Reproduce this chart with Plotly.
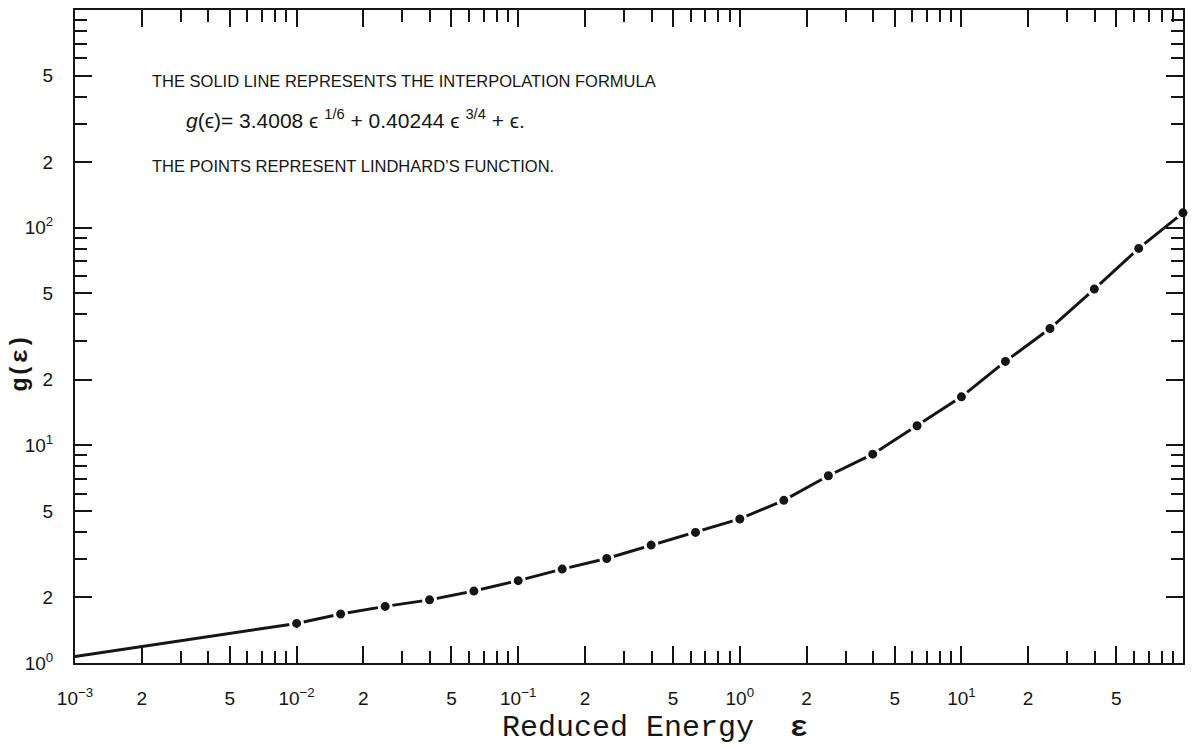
import plotly.graph_objects as go

# Lindhard's function, tabulated at reduced energies (5 points per decade)
eps_points = [0.01, 0.0158, 0.0251, 0.0398, 0.0631, 0.1, 0.158, 0.251, 0.398, 0.631,
              1.0, 1.58, 2.51, 3.98, 6.31, 10.0, 15.8, 25.1, 39.8, 63.1, 100.0]
g_points = [1.52, 1.68, 1.82, 1.95, 2.14, 2.39, 2.70, 3.02, 3.48, 3.98,
            4.59, 5.59, 7.25, 9.11, 12.3, 16.7, 24.3, 34.4, 52.2, 80.3, 117.0]

# interpolation curve: starts at the left edge of the frame and follows the points
eps_curve = [0.001] + eps_points
g_curve = [1.07] + g_points

# labelled ticks
x_tick_vals = [0.001, 0.002, 0.005, 0.01, 0.02, 0.05, 0.1, 0.2, 0.5, 1, 2, 5, 10, 20, 50]
x_tick_text = ["10<sup>−3</sup>", "2", "5", "10<sup>−2</sup>", "2", "5",
               "10<sup>−1</sup>", "2", "5", "10<sup>0</sup>", "2", "5",
               "10<sup>1</sup>", "2", "5"]
y_tick_vals = [1, 2, 5, 10, 20, 50, 100, 200, 500]
y_tick_text = ["10<sup>0</sup>", "2", "5", "10<sup>1</sup>", "2", "5",
               "10<sup>2</sup>", "2", "5"]

# unlabelled minor ticks
x_minor_vals = [m * 10.0 ** d for d in range(-3, 2) for m in (3, 4, 6, 7, 8, 9)]
y_minor_vals = [m * 10.0 ** d for d in range(0, 3) for m in (3, 4, 6, 7, 8, 9)]

INK = "#151515"

fig = go.Figure()
fig.add_trace(go.Scatter(
    x=eps_curve, y=g_curve, mode="lines",
    line=dict(color=INK, width=3), showlegend=False, hoverinfo="skip",
))
fig.add_trace(go.Scatter(
    x=eps_points, y=g_points, mode="markers",
    marker=dict(symbol="circle", size=12, color=INK,
                line=dict(color="white", width=3)),
    cliponaxis=False, showlegend=False,
))

# plot frame in pixels
L, R, T, B = 75, 1184, 8, 663
W, H = R - L, B - T


def px(x):
    return (x - L) / W


def py(y):
    return (B - y) / H


axis_common = dict(
    type="log", showline=True, linewidth=2, linecolor=INK, mirror="allticks",
    ticks="inside", ticklen=17, tickwidth=2, tickcolor=INK,
    showgrid=False, zeroline=False, tickmode="array",
    tickfont=dict(family="Liberation Sans, Arial, sans-serif", size=19, color=INK),
)

fig.update_xaxes(
    **axis_common, range=[-3, 2],
    tickvals=x_tick_vals, ticktext=x_tick_text, ticklabelstandoff=17,
    minor=dict(tickmode="array", tickvals=x_minor_vals, ticks="inside",
               ticklen=12, tickwidth=2, tickcolor=INK, showgrid=False),
)
fig.update_yaxes(
    **axis_common, range=[0, 3],
    tickvals=y_tick_vals, ticktext=y_tick_text, ticklabelstandoff=16,
    minor=dict(tickmode="array", tickvals=y_minor_vals, ticks="inside",
               ticklen=12, tickwidth=2, tickcolor=INK, showgrid=False),
)

note_font = dict(family="Liberation Sans, Arial, sans-serif", size=16.5, color=INK)
formula_font = dict(family="Liberation Sans, Arial, sans-serif", size=21, color=INK)
annotations = [
    dict(x=px(150), y=py(79), text="THE SOLID LINE REPRESENTS THE INTERPOLATION FORMULA",
         xanchor="left", yanchor="middle", font=note_font),
    dict(x=px(184), y=py(117),
         text="<i>g</i>(ϵ)= 3.4008 ϵ <sup>1/6</sup> + 0.40244 ϵ <sup>3/4</sup> + ϵ.",
         xanchor="left", yanchor="middle", font=formula_font),
    dict(x=px(150), y=py(164), text="THE POINTS REPRESENT LINDHARD’S FUNCTION.",
         xanchor="left", yanchor="middle", font=note_font),
    dict(x=px(500), y=py(728), text="Reduced Energy  <b>ε</b>",
         xanchor="left", yanchor="middle",
         font=dict(family="Liberation Mono, Courier New, monospace", size=30, color=INK)),
    dict(x=px(21), y=py(362), text="<b>g(ε)</b>", textangle=-90,
         xanchor="center", yanchor="middle",
         font=dict(family="Liberation Mono, Courier New, monospace", size=24, color=INK)),
]
for a in annotations:
    a.update(xref="paper", yref="paper", showarrow=False)

fig.update_layout(
    width=1193, height=747,
    margin=dict(l=L, r=1193 - R, t=T, b=747 - B),
    paper_bgcolor="white", plot_bgcolor="white",
    annotations=annotations,
)

fig.write_html("out.html")
